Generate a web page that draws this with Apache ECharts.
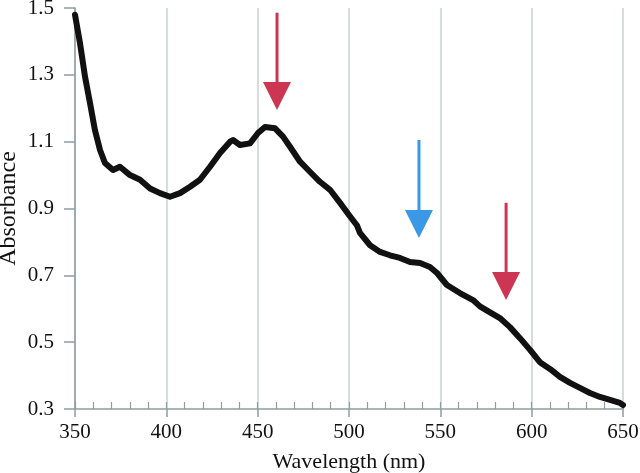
<!DOCTYPE html>
<html><head><meta charset="utf-8">
<script src="https://cdn.jsdelivr.net/npm/echarts@6/dist/echarts.min.js"></script>
<style>html,body{margin:0;padding:0;background:#fff}#c{width:640px;height:473px}</style>
</head><body><div id="c"></div>
<script>
const wavelength = [350, 352.7, 355.5, 358.2, 360.9, 363.7, 366.4, 370.8, 374.6, 380.1, 385.6, 391.1, 396.5, 402, 407.5, 413, 418.4, 423.9, 429.4, 434.9, 436.5, 440.3, 445.8, 450.2, 454, 459.5, 463.9, 467.7, 473.2, 478.6, 484.1, 489.6, 495.1, 500.5, 504.3, 506, 511.5, 517, 522.4, 527.9, 533.4, 538.9, 544.3, 548.2, 553.6, 560.7, 567.9, 571.7, 577.2, 582.6, 588.1, 593.6, 599.1, 604.5, 610, 615.5, 621, 626.4, 631.9, 637.4, 642.9, 648.3, 650];
const absorbance = [1.48, 1.396, 1.294, 1.216, 1.135, 1.075, 1.036, 1.015, 1.025, 1.0, 0.986, 0.96, 0.946, 0.935, 0.946, 0.965, 0.986, 1.025, 1.066, 1.10, 1.105, 1.09, 1.095, 1.126, 1.144, 1.14, 1.115, 1.085, 1.04, 1.01, 0.98, 0.956, 0.917, 0.877, 0.85, 0.827, 0.79, 0.77, 0.76, 0.752, 0.74, 0.737, 0.725, 0.707, 0.671, 0.647, 0.626, 0.607, 0.589, 0.572, 0.545, 0.512, 0.477, 0.44, 0.42, 0.396, 0.378, 0.363, 0.348, 0.336, 0.327, 0.318, 0.312];
// arrows: wavelength, top value, tip value, colour
const arrowX = [460.6, 538.3, 586];
const arrowTop = [1.486, 1.105, 0.917];
const arrowTip = [1.195, 0.812, 0.626];
const arrowColor = ['#cc3653', '#3a98e6', '#cc3653'];
const yTicks = [0.3, 0.5, 0.7, 0.9, 1.1, 1.3, 1.5];

const font = 'Liberation Serif';
const axisGray = '#8e9d9d';
const chart = echarts.init(document.getElementById('c'));
const curve = wavelength.map((w, i) => [w, absorbance[i]]);
const arrows = arrowX.map((x, i) => [x, arrowTop[i], arrowTip[i], i]);

chart.setOption({
  animation: false,
  backgroundColor: '#fff',
  grid: {left: 75, right: 17, top: 8, bottom: 64, containLabel: false, outerBoundsMode: 'none'},
  xAxis: [{
    type: 'value', min: 350, max: 650, interval: 50,
    name: 'Wavelength (nm)', nameLocation: 'middle', nameGap: 42, nameMoveOverlap: false,
    nameTextStyle: {fontFamily: font, fontSize: 22, color: '#111'},
    axisLine: {show: true, lineStyle: {color: axisGray, width: 1.5}},
    axisTick: {show: true, inside: false, length: 8, lineStyle: {color: axisGray, width: 1.5}},
    axisLabel: {fontFamily: font, fontSize: 21, color: '#111', margin: 13},
    splitLine: {show: true, lineStyle: {color: '#c9d2d2', width: 1.5}}
  }, {
    type: 'value', min: 350, max: 650, interval: 10, position: 'bottom',
    axisLine: {show: false},
    axisTick: {show: true, inside: true, length: 7, lineStyle: {color: axisGray, width: 1.2}},
    axisLabel: {show: false},
    splitLine: {show: false}
  }],
  yAxis: {
    type: 'value', min: 0.3, max: 1.5, interval: 0.2,
    name: 'Absorbance', nameLocation: 'middle', nameGap: 54, nameRotate: 90, nameMoveOverlap: false,
    nameTextStyle: {fontFamily: font, fontSize: 24, color: '#111'},
    axisLine: {show: true, lineStyle: {color: axisGray, width: 1.5}},
    axisTick: {show: true, inside: false, length: 11, lineStyle: {color: axisGray, width: 1.5}},
    axisLabel: {fontFamily: font, fontSize: 21, color: '#111', margin: 21,
      formatter: v => { const t = yTicks.find(k => Math.abs(k - v) < 1e-6); return t === undefined ? '' : t.toFixed(1); }},
    splitLine: {show: false}
  },
  series: [{
    type: 'line', xAxisIndex: 0, data: curve, showSymbol: false, smooth: false,
    lineStyle: {color: '#111', width: 6, join: 'round', cap: 'round'}, z: 3
  }, {
    type: 'custom', xAxisIndex: 0, data: arrows, z: 4,
    renderItem: (params, api) => {
      const x = api.value(0);
      const top = api.coord([x, api.value(1)]);
      const tip = api.coord([x, api.value(2)]);
      const col = arrowColor[api.value(3)];
      const headLen = 28, halfW = 14;
      return {type: 'group', children: [
        {type: 'line', shape: {x1: top[0], y1: top[1], x2: tip[0], y2: tip[1] - headLen + 2},
          style: {stroke: col, lineWidth: 3}},
        {type: 'polygon', shape: {points: [[tip[0] - halfW, tip[1] - headLen], [tip[0] + halfW, tip[1] - headLen], [tip[0], tip[1]]]},
          style: {fill: col}}
      ]};
    }
  }]
});
</script></body></html>
